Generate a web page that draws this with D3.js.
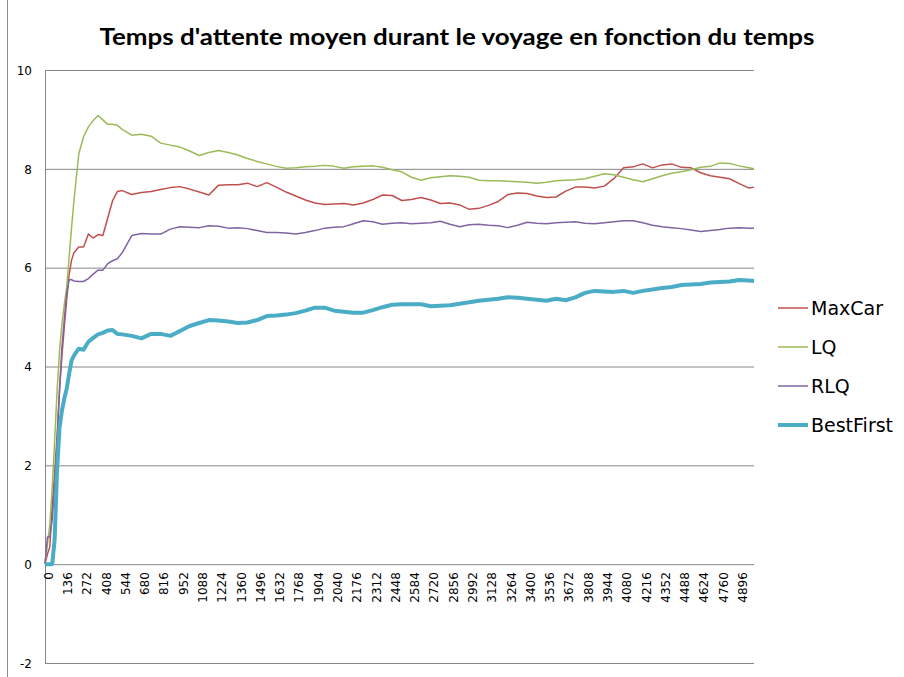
<!DOCTYPE html>
<html>
<head>
<meta charset="utf-8">
<script src="https://cdn.jsdelivr.net/npm/d3@7"></script>
<style>
  body { margin: 0; background: #fff; }
  .grid line { stroke: #868686; stroke-width: 1; }
  .grid path { display: none; }
  .axis text { font: 12px "DejaVu Sans", sans-serif; fill: #000; }
  .legend text { font: 19px "DejaVu Sans", sans-serif; fill: #000; }
</style>
</head>
<body>
<svg width="904" height="677"></svg>
<script>
// time steps (shared x values of every series)
var steps = [0, 17, 34, 51, 68, 85, 102, 119, 136, 153, 170, 187, 204,
  238, 272, 306, 340, 374, 408, 442, 476, 510, 544,
  612, 680, 748, 816, 884, 952, 1020, 1088, 1156, 1224,
  1292, 1360, 1428, 1496, 1564, 1632, 1700, 1768, 1836, 1904,
  1972, 2040, 2108, 2176, 2244, 2312, 2380, 2448, 2516, 2584,
  2652, 2720, 2788, 2856, 2924, 2992, 3060, 3128, 3196, 3264,
  3332, 3400, 3468, 3536, 3604, 3672, 3740, 3808, 3876, 3944,
  4012, 4080, 4148, 4216, 4284, 4352, 4420, 4488, 4556, 4624,
  4692, 4760, 4828, 4896, 4964, 5000];

var maxCar = [0, 0.2, 0.35, 1.2, 1.85, 2.6, 3.5, 4.2, 4.8, 5.35, 5.85, 6.15, 6.3,
  6.42, 6.42, 6.68, 6.6, 6.67, 6.65, 7.0, 7.35, 7.54, 7.56,
  7.48, 7.52, 7.54, 7.58, 7.62, 7.64, 7.59, 7.53, 7.47, 7.67,
  7.68, 7.68, 7.71, 7.64, 7.72, 7.63, 7.53, 7.45, 7.37, 7.31,
  7.28, 7.29, 7.30, 7.27, 7.31, 7.38, 7.47, 7.46, 7.36, 7.38,
  7.42, 7.37, 7.30, 7.31, 7.27, 7.18, 7.20, 7.26, 7.34, 7.48,
  7.51, 7.50, 7.45, 7.42, 7.43, 7.55, 7.63, 7.63, 7.61, 7.65,
  7.80, 8.02, 8.04, 8.10, 8.02, 8.08, 8.10, 8.03, 8.02, 7.92,
  7.86, 7.83, 7.80, 7.70, 7.61, 7.63];

var lq = [0, 0.4, 0.8, 1.55, 2.5, 3.5, 4.3, 4.85, 5.25, 5.6, 6.2, 6.8, 7.35,
  8.3, 8.65, 8.85, 8.98, 9.08, 8.99, 8.90, 8.90, 8.88, 8.8,
  8.68, 8.70, 8.66, 8.52, 8.48, 8.44, 8.36, 8.27, 8.33, 8.37,
  8.33, 8.28, 8.21, 8.15, 8.10, 8.05, 8.01, 8.02, 8.04, 8.05,
  8.07, 8.05, 8.01, 8.04, 8.05, 8.06, 8.03, 7.98, 7.94, 7.83,
  7.77, 7.82, 7.84, 7.86, 7.85, 7.83, 7.77, 7.76, 7.76, 7.75,
  7.74, 7.73, 7.71, 7.73, 7.76, 7.77, 7.78, 7.80, 7.85, 7.90,
  7.88, 7.83, 7.78, 7.74, 7.80, 7.86, 7.91, 7.94, 7.98, 8.03,
  8.05, 8.12, 8.11, 8.06, 8.02, 8.00];

var rlq = [0, 0.55, 0.55, 0.9, 1.6, 2.45, 3.5, 4.38, 4.95, 5.48, 5.75, 5.76, 5.73,
  5.72, 5.72, 5.78, 5.87, 5.95, 5.95, 6.08, 6.14, 6.18, 6.30,
  6.65, 6.69, 6.68, 6.68, 6.78, 6.83, 6.82, 6.81, 6.85, 6.84,
  6.80, 6.81, 6.79, 6.75, 6.71, 6.71, 6.70, 6.68, 6.71, 6.75,
  6.80, 6.82, 6.83, 6.89, 6.95, 6.93, 6.88, 6.90, 6.91, 6.89,
  6.90, 6.91, 6.94, 6.88, 6.83, 6.87, 6.88, 6.86, 6.85, 6.81,
  6.86, 6.92, 6.90, 6.89, 6.91, 6.92, 6.93, 6.90, 6.89, 6.91,
  6.93, 6.95, 6.95, 6.91, 6.86, 6.83, 6.81, 6.79, 6.76, 6.73,
  6.75, 6.77, 6.80, 6.81, 6.80, 6.80];

var bestFirst = [0, 0, 0, 0, 0.5, 1.9, 2.75, 3.1, 3.35, 3.55, 3.85, 4.12, 4.22,
  4.36, 4.34, 4.50, 4.58, 4.65, 4.68, 4.73, 4.74, 4.66, 4.65,
  4.62, 4.57, 4.66, 4.66, 4.62, 4.72, 4.82, 4.88, 4.94, 4.93,
  4.91, 4.88, 4.89, 4.94, 5.02, 5.03, 5.05, 5.08, 5.13, 5.19,
  5.19, 5.13, 5.11, 5.09, 5.09, 5.14, 5.20, 5.25, 5.26, 5.26,
  5.26, 5.22, 5.23, 5.24, 5.27, 5.30, 5.33, 5.35, 5.37, 5.40,
  5.39, 5.37, 5.35, 5.33, 5.37, 5.34, 5.40, 5.49, 5.53, 5.52,
  5.51, 5.53, 5.49, 5.53, 5.56, 5.59, 5.61, 5.65, 5.66, 5.67,
  5.70, 5.71, 5.72, 5.75, 5.74, 5.73];

var seriesNames = ["MaxCar", "LQ", "RLQ", "BestFirst"];
var seriesColors = ["#C0504D", "#9BBB59", "#8064A2", "#4BACC6"];
var seriesWidths = [1.5, 1.5, 1.5, 4];

var xTickValues = [0, 136, 272, 408, 544, 680, 816, 952, 1088, 1224, 1360, 1496,
  1632, 1768, 1904, 2040, 2176, 2312, 2448, 2584, 2720, 2856, 2992, 3128, 3264,
  3400, 3536, 3672, 3808, 3944, 4080, 4216, 4352, 4488, 4624, 4760, 4896];
var yTickValues = [-2, 0, 2, 4, 6, 8, 10];

var title = "Temps d'attente moyen durant le voyage en fonction du temps";

var svg = d3.select("svg"),
    margin = {top: 70, right: 150, bottom: 14, left: 45},
    width = 709,
    height = 593,
    g = svg.append("g").attr("transform", "translate(" + margin.left + "," + margin.top + ")");

// outer frame of the chart object
svg.append("line")
    .attr("x1", 7.5).attr("x2", 7.5)
    .attr("y1", 0).attr("y2", 677)
    .attr("stroke", "#8c8c8c");

var xScale = d3.scaleLinear().domain([0, 5000]).range([0, width]),
    yScale = d3.scaleLinear().domain([-2, 10]).range([height, 0]);

// plain hyphen for negatives, like the original
var plain = function(d) { return String(d); };

// horizontal gridlines
g.append("g")
    .attr("class", "grid")
    .call(d3.axisLeft(yScale)
        .tickValues(yTickValues)
        .tickSize(-width)
        .tickFormat(""));

// y axis line
g.append("line")
    .attr("x1", 0.5).attr("x2", 0.5)
    .attr("y1", 0).attr("y2", height)
    .attr("stroke", "#868686");

// y labels
var yAxis = g.append("g")
    .attr("class", "axis")
    .call(d3.axisLeft(yScale).tickValues(yTickValues).tickSize(0).tickPadding(13).tickFormat(plain));
yAxis.select(".domain").remove();
yAxis.selectAll("text").attr("dy", "0.35em");

// x labels, rotated, hanging under the zero line
var xAxis = g.append("g")
    .attr("class", "axis")
    .attr("transform", "translate(0," + yScale(0) + ")")
    .call(d3.axisBottom(xScale).tickValues(xTickValues).tickSize(0).tickFormat(plain));
xAxis.select(".domain").remove();
xAxis.selectAll("text")
    .attr("text-anchor", "end")
    .attr("transform", "translate(3,8) rotate(-90)")
    .attr("x", 0)
    .attr("y", 0)
    .attr("dy", "0.35em");

var line = d3.line()
    .x(function(d) { return xScale(d[0]); })
    .y(function(d) { return yScale(d[1]); });

var allSeries = [maxCar, lq, rlq, bestFirst];
allSeries.forEach(function(vals, i) {
    g.append("path")
        .datum(steps.map(function(t, j) { return [t, vals[j]]; }))
        .attr("fill", "none")
        .attr("stroke", seriesColors[i])
        .attr("stroke-width", seriesWidths[i])
        .attr("stroke-linejoin", "round")
        .attr("d", line);
});

// title
svg.append("text")
    .attr("x", 457)
    .attr("y", 45)
    .attr("text-anchor", "middle")
    .attr("textLength", 715)
    .attr("lengthAdjust", "spacingAndGlyphs")
    .style("font", "bold 23px Lato, sans-serif")
    .text(title);

// legend
var legend = svg.append("g").attr("class", "legend")
    .attr("transform", "translate(778,308)");
var item = legend.selectAll("g")
    .data(seriesNames)
    .enter().append("g")
    .attr("transform", function(d, i) { return "translate(0," + (i * 39) + ")"; });
item.append("line")
    .attr("x1", 0).attr("x2", 30)
    .attr("stroke", function(d, i) { return seriesColors[i]; })
    .attr("stroke-width", function(d, i) { return seriesWidths[i]; });
item.append("text")
    .attr("x", 33)
    .attr("dy", "0.35em")
    .text(function(d) { return d; });
</script>
</body>
</html>
